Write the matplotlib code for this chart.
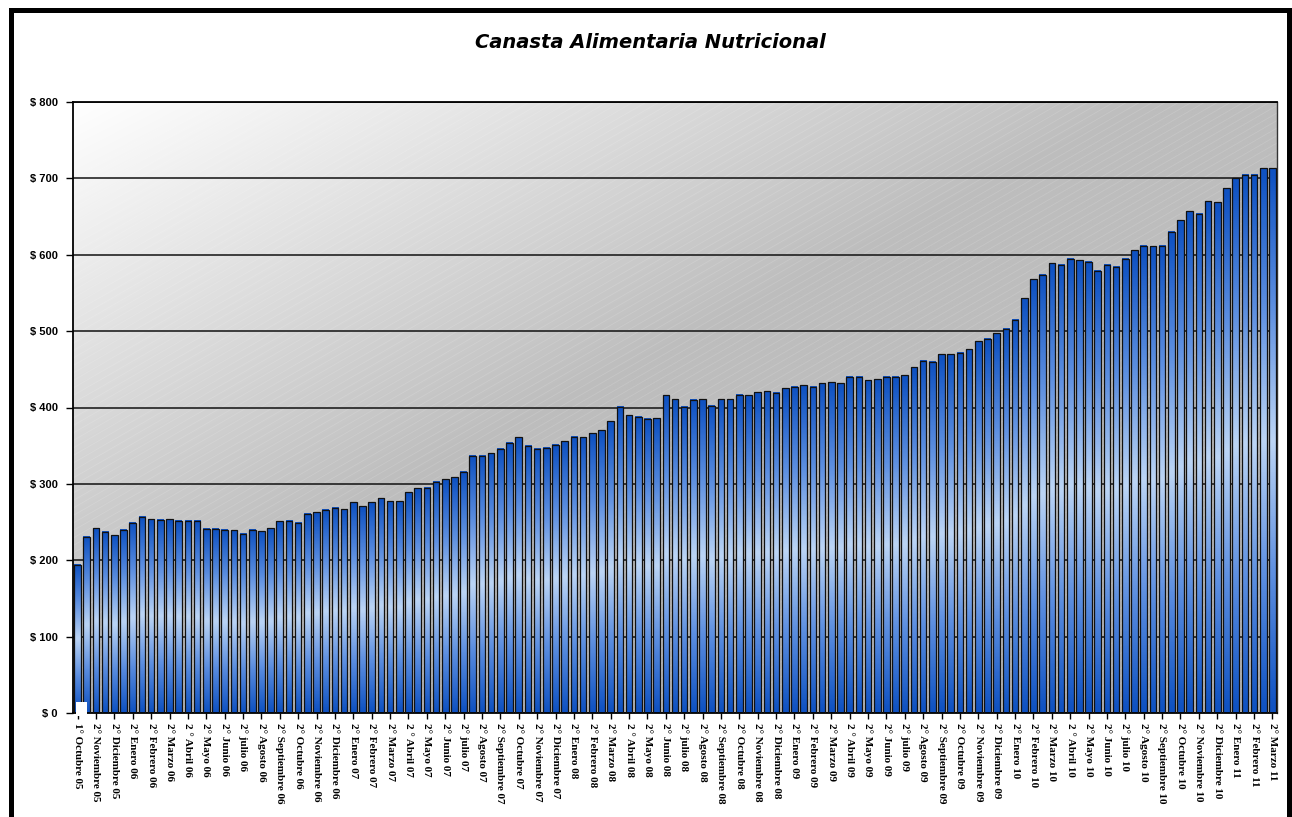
import numpy as np
import matplotlib
matplotlib.use("Agg")
import matplotlib.pyplot as plt
from matplotlib.colors import LinearSegmentedColormap
from matplotlib.patches import Rectangle
from matplotlib.collections import LineCollection

# ---------------- data ----------------
title = "Canasta Alimentaria Nutricional"

values = [194, 231, 242, 237, 233, 240, 249, 257, 254, 253,
          254, 252, 252, 252, 241, 241, 240, 239, 235, 240,
          238, 242, 251, 252, 249, 261, 263, 266, 269, 267,
          276, 271, 276, 281, 277, 277, 289, 294, 295, 303,
          306, 309, 316, 337, 337, 340, 346, 354, 361, 350,
          346, 347, 351, 356, 362, 361, 366, 370, 382, 401,
          390, 388, 385, 386, 416, 411, 401, 410, 411, 402,
          411, 411, 417, 416, 420, 421, 419, 425, 427, 429,
          427, 432, 433, 432, 440, 440, 436, 437, 440, 440,
          442, 453, 461, 460, 470, 470, 472, 476, 487, 490,
          497, 503, 515, 543, 568, 574, 589, 587, 595, 593,
          591, 579, 587, 584, 595, 606, 612, 611, 612, 630,
          645, 657, 654, 670, 669, 687, 700, 705, 705, 713,
          713]

tick_labels = [
    "1° Octubre 05", "2° Noviembre 05", "2° Diciembre 05",
    "2° Enero 06", "2° Febrero 06", "2° Marzo 06", "2 ° Abril 06", "2° Mayo 06", "2° Junio 06",
    "2° julio 06", "2° Agosto 06", "2° Septiembre 06", "2° Octubre 06", "2° Noviembre 06", "2° Diciembre 06",
    "2° Enero 07", "2° Febrero 07", "2° Marzo 07", "2 ° Abril 07", "2° Mayo 07", "2° Junio 07",
    "2° julio 07", "2° Agosto 07", "2° Septiembre 07", "2° Octubre 07", "2° Noviembre 07", "2° Diciembre 07",
    "2° Enero 08", "2° Febrero 08", "2° Marzo 08", "2 ° Abril 08", "2° Mayo 08", "2° Junio 08",
    "2° julio 08", "2° Agosto 08", "2° Septiembre 08", "2° Octubre 08", "2° Noviembre 08", "2° Diciembre 08",
    "2° Enero 09", "2° Febrero 09", "2° Marzo 09", "2 ° Abril 09", "2° Mayo 09", "2° Junio 09",
    "2° julio 09", "2° Agosto 09", "2° Septiembre 09", "2° Octubre 09", "2° Noviembre 09", "2° Diciembre 09",
    "2° Enero 10", "2° Febrero 10", "2° Marzo 10", "2 ° Abril 10", "2° Mayo 10", "2° Junio 10",
    "2° julio 10", "2° Agosto 10", "2° Septiembre 10", "2° Octubre 10", "2° Noviembre 10", "2° Diciembre 10",
    "2° Enero 11", "2° Febrero 11", "2° Marzo 11",
]
y_ticks = [0, 100, 200, 300, 400, 500, 600, 700, 800]

# ---------------- figure ----------------
W, H = 1292, 817
fig = plt.figure(figsize=(W / 100, H / 100), dpi=100)
fig.patch.set_facecolor("white")

ax_l, ax_r, ax_t, ax_b = 73, 1277, 102, 713
ax = fig.add_axes([ax_l / W, 1 - ax_b / H, (ax_r - ax_l) / W, (ax_b - ax_t) / H])

n = len(values)
x = np.arange(n)

# background gradient (white top-left -> gray)
gw, gh = 400, 200
u = np.linspace(0, 1, gw)[None, :]
w = np.linspace(0, 1, gh)[:, None]
t = (u + w) / 2.0
loss = 66 * np.clip(t / 0.45, 0, 1)
g = (255 - loss) / 255.0
bg = np.dstack([g, g, g])
ax.imshow(bg, extent=[0, 1, 0, 1], transform=ax.transAxes, aspect="auto",
          origin="upper", zorder=0, interpolation="bilinear")

# faint diagonal stripes
pw, ph = ax_r - ax_l, ax_b - ax_t
slope = np.tan(np.radians(30))
segs = []
for c in np.arange(-pw * slope, ph + 10, 7.5):
    segs.append([(0, c / ph), (1, (c + pw * slope) / ph)])
lc = LineCollection(segs, colors="white", linewidths=0.6, alpha=0.14,
                    transform=ax.transAxes, zorder=0.5)
ax.add_collection(lc)

# gridlines
ax.set_axisbelow(True)
ax.yaxis.grid(True, color="#111111", linewidth=1.1, zorder=1)

# bars with vertical gradient
bw = 0.72
cmap = LinearSegmentedColormap.from_list(
    "bar", ["#0f52c2", "#5d8fe0", "#bcd5f5", "#5d8fe0", "#0f52c2"])
grad = np.linspace(0, 1, 64)[:, None]
bars = ax.bar(x, values, width=bw, facecolor="none", edgecolor="#111111",
              linewidth=0.9, zorder=3)
for xi, v in zip(x, values):
    ax.imshow(grad, extent=(xi - bw / 2, xi + bw / 2, 0, v), aspect="auto",
              cmap=cmap, zorder=2, interpolation="bilinear", origin="upper")

# small white box artefact at the foot of the first bar
ax.add_patch(Rectangle((-0.15, -4), 1.15, 18, facecolor="white",
                       edgecolor="none", zorder=4, clip_on=False))

ax.set_xlim(-0.5, n - 0.5)
ax.set_ylim(0, 800)

# axes styling
for side in ["left", "top", "bottom"]:
    ax.spines[side].set_color("black")
    ax.spines[side].set_linewidth(1.3)
ax.spines["right"].set_color("#333333")
ax.spines["right"].set_linewidth(1.0)
ax.spines["top"].set_zorder(5)

ax.set_yticks(y_ticks)
ax.set_yticklabels([f"$ {v}" for v in y_ticks], fontfamily="Liberation Sans",
                   fontweight="bold", fontsize=8)
ax.set_xticks(x[::2])
ax.set_xticklabels(tick_labels, rotation=-90, ha="center", va="top",
                   fontfamily="Liberation Serif", fontweight="bold", fontsize=8)
ax.tick_params(axis="y", direction="out", length=5, width=1, pad=6, colors="black")
ax.tick_params(axis="x", direction="out", length=4, width=1, pad=3, colors="black")

# title
fig.text(650 / W, 1 - 43 / H, title, ha="center", va="center",
         fontfamily="DejaVu Sans", fontweight="bold", fontstyle="italic",
         fontsize=14)

# outer thick frame
fig.patches.append(Rectangle((10.5 / W, -0.05), (1289 - 10.5) / W, 1.05 - 10 / H,
                             transform=fig.transFigure, fill=False,
                             edgecolor="black", linewidth=3.6, zorder=10))

fig.savefig("out.png", dpi=100, facecolor=fig.get_facecolor())
